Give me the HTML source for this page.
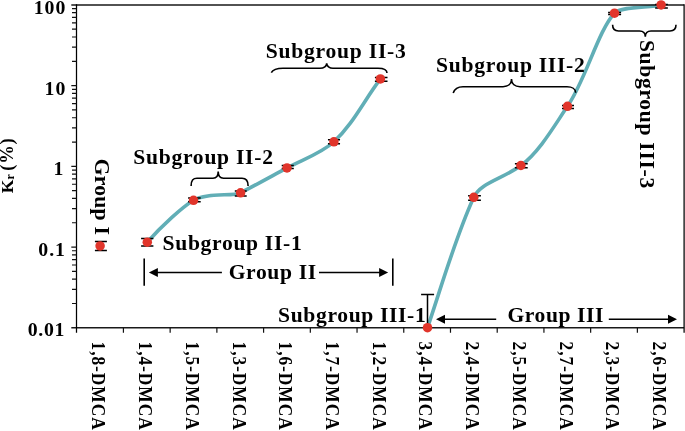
<!DOCTYPE html>
<html><head><meta charset="utf-8"><style>
html,body{margin:0;padding:0;background:#fff;width:685px;height:431px;overflow:hidden}
svg{display:block;will-change:transform}
text{font-family:"Liberation Serif",serif;font-weight:bold;fill:#000}
</style></head><body>
<svg width="685" height="431" viewBox="0 0 685 431">
<path d="M147.30,242.20 C161.85,225.80 182.22,207.25 193.50,200.30 C206.31,192.40 233.25,196.57 240.60,192.80 C254.52,185.67 275.97,173.78 287.00,167.90 C302.89,159.42 321.34,153.46 333.90,141.80 C353.02,124.03 363.82,100.96 380.40,78.90" stroke="#61aeb6" stroke-width="3.6" fill="none" stroke-linecap="round" stroke-linejoin="round"/>
<path d="M427.50,327.70 C442.68,282.86 455.33,237.53 473.80,197.30 C480.44,182.84 501.64,179.44 520.90,165.50 C539.57,151.98 555.12,124.34 567.50,106.30 C585.87,79.53 598.37,30.15 614.50,13.20 C621.59,5.74 652.29,8.04 661.10,4.90" stroke="#61aeb6" stroke-width="3.6" fill="none" stroke-linecap="round" stroke-linejoin="round"/>
<path d="M71.3,4.9H684.1M71.3,327.8H684.1" stroke="#1a1a1a" stroke-width="1.45" fill="none"/>
<path d="M76.5,4.300000000000001V332.8M684.1,4.300000000000001V332.8" stroke="#000" stroke-width="1.25" fill="none"/>
<path d="M72,303.50H76.5M72,289.28H76.5M72,279.20H76.5M72,271.38H76.5M72,264.98H76.5M72,259.58H76.5M72,254.90H76.5M72,250.77H76.5M72,222.77H76.5M72,208.56H76.5M72,198.47H76.5M72,190.65H76.5M72,184.26H76.5M72,178.85H76.5M72,174.17H76.5M72,170.04H76.5M72,142.05H76.5M72,127.83H76.5M72,117.75H76.5M72,109.93H76.5M72,103.53H76.5M72,98.13H76.5M72,93.45H76.5M72,89.32H76.5M72,61.32H76.5M72,47.11H76.5M72,37.02H76.5M72,29.20H76.5M72,22.81H76.5M72,17.40H76.5M72,12.72H76.5M72,8.59H76.5M71.3,247.07H76.5M71.3,166.35H76.5M71.3,85.62H76.5" stroke="#111" stroke-width="1.2" fill="none"/>
<path d="M123.42,327.8V332.8M170.15,327.8V332.8M216.87,327.8V332.8M263.59,327.8V332.8M310.32,327.8V332.8M357.04,327.8V332.8M403.76,327.8V332.8M450.48,327.8V332.8M497.21,327.8V332.8M543.93,327.8V332.8M590.65,327.8V332.8M637.38,327.8V332.8" stroke="#111" stroke-width="1.2" fill="none"/>
<text x="66.3" y="13.9" font-size="19.8" letter-spacing="1" text-anchor="end">100</text>
<text x="66.3" y="94.6" font-size="19.8" letter-spacing="1" text-anchor="end">10</text>
<text x="64.3" y="175.3" font-size="19.8" letter-spacing="1" text-anchor="end">1</text>
<text x="66" y="256.1" font-size="19.8" letter-spacing="1" text-anchor="end">0.1</text>
<text x="65.2" y="336.0" font-size="19.8" letter-spacing="0.7" text-anchor="end">0.01</text>
<text transform="translate(13.2,193.2) rotate(-90)" font-size="17.6">K<tspan font-size="12" dy="0.8">r</tspan><tspan dy="-0.8" dx="-1.8" font-size="18.6" letter-spacing="0.7"> (%)</tspan></text>
<text transform="translate(92.4,341.5) rotate(90) scale(1,1.07)" font-size="17.4" letter-spacing="0.95">1,8-DMCA</text>
<text transform="translate(139.1,341.5) rotate(90) scale(1,1.07)" font-size="17.4" letter-spacing="0.95">1,4-DMCA</text>
<text transform="translate(185.8,341.5) rotate(90) scale(1,1.07)" font-size="17.4" letter-spacing="0.95">1,5-DMCA</text>
<text transform="translate(232.5,341.5) rotate(90) scale(1,1.07)" font-size="17.4" letter-spacing="0.95">1,3-DMCA</text>
<text transform="translate(279.3,341.5) rotate(90) scale(1,1.07)" font-size="17.4" letter-spacing="0.95">1,6-DMCA</text>
<text transform="translate(326.0,341.5) rotate(90) scale(1,1.07)" font-size="17.4" letter-spacing="0.95">1,7-DMCA</text>
<text transform="translate(372.7,341.5) rotate(90) scale(1,1.07)" font-size="17.4" letter-spacing="0.95">1,2-DMCA</text>
<text transform="translate(419.4,341.5) rotate(90) scale(1,1.07)" font-size="17.4" letter-spacing="0.95">3,4-DMCA</text>
<text transform="translate(466.1,341.5) rotate(90) scale(1,1.07)" font-size="17.4" letter-spacing="0.95">2,4-DMCA</text>
<text transform="translate(512.9,341.5) rotate(90) scale(1,1.07)" font-size="17.4" letter-spacing="0.95">2,5-DMCA</text>
<text transform="translate(559.6,341.5) rotate(90) scale(1,1.07)" font-size="17.4" letter-spacing="0.95">2,7-DMCA</text>
<text transform="translate(606.3,341.5) rotate(90) scale(1,1.07)" font-size="17.4" letter-spacing="0.95">2,3-DMCA</text>
<text transform="translate(653.0,341.5) rotate(90) scale(1,1.07)" font-size="17.4" letter-spacing="0.95">2,6-DMCA</text>
<path d="M94.90,241.4H106.90M94.90,250.6H106.90M100.10,241.4V250.6M141.10,238.4H153.40M141.10,245.9H153.40M147.30,238.4V245.9M188.10,197.9H200.70M188.10,201.8H200.70M193.50,197.9V201.8M234.80,190.9H246.70M234.80,195.9H246.70M240.60,190.9V195.9M281.70,165.6H293.80M281.70,168.6H293.80M287.00,165.6V168.6M327.95,139.7H340.05M327.95,143.7H340.05M333.90,139.7V143.7M374.90,77.6H387.50M374.90,81.2H387.50M380.40,77.6V81.2M468.10,195.7H480.90M468.10,200.3H480.90M473.80,195.7V200.3M514.90,163.7H527.70M514.90,167.7H527.70M520.90,163.7V167.7M562.00,105.4H574.00M562.00,108.5H574.00M567.50,105.4V108.5M608.10,12.5H621.10M608.10,14.4H621.10M614.50,12.5V14.4M655.15,4.6H667.85M655.15,7.9H667.85M661.10,4.6V7.9M421.1,294.4H434.1M427.50,294.4V327.8" stroke="#000" stroke-width="1.5" fill="none"/>
<circle cx="100.1" cy="245.9" r="4.75" fill="#e1352b"/>
<circle cx="147.3" cy="242.2" r="4.75" fill="#e1352b"/>
<circle cx="193.5" cy="200.3" r="4.75" fill="#e1352b"/>
<circle cx="240.6" cy="192.8" r="4.75" fill="#e1352b"/>
<circle cx="287.0" cy="167.9" r="4.75" fill="#e1352b"/>
<circle cx="333.9" cy="141.8" r="4.75" fill="#e1352b"/>
<circle cx="380.4" cy="78.9" r="4.75" fill="#e1352b"/>
<circle cx="427.5" cy="327.7" r="4.75" fill="#e1352b"/>
<circle cx="473.8" cy="197.3" r="4.75" fill="#e1352b"/>
<circle cx="520.9" cy="165.5" r="4.75" fill="#e1352b"/>
<circle cx="567.5" cy="106.3" r="4.75" fill="#e1352b"/>
<circle cx="614.5" cy="13.2" r="4.75" fill="#e1352b"/>
<circle cx="661.1" cy="4.9" r="4.75" fill="#e1352b"/>
<path d="M191.1,185.9 C191.1,180 193,178.3 197,178.3 H213 C216.5,178.3 218.2,176 218.2,171.6 C218.2,176 220,178.3 223.5,178.3 H242 C246,178.3 248.1,180 248.1,185.9" stroke="#000" stroke-width="1.6" fill="none"/>
<path d="M271.3,72.6 C273,69.5 276,68.3 283,68.3 H320 C324,68.3 326.7,66 326.7,63.2 C326.7,66 329.5,68.3 333,68.3 H378 C384,68.3 387,70 387,73.1" stroke="#000" stroke-width="1.6" fill="none"/>
<path d="M453.2,93 C454.5,89 457,86.7 463,86.7 H503 C508,86.7 511.5,84 511.5,79.1 C511.5,84 515,86.7 520,86.7 H567 C572,86.7 575.7,89 575.7,92.8" stroke="#000" stroke-width="1.6" fill="none"/>
<path d="M612.6,24.8 C612.6,29 614.5,31 618.5,31 H639.5 C643,31 645.3,33 645.3,36.8 C645.3,33 647.6,31 651,31 H670 C674,31 676,29 676,24.8" stroke="#000" stroke-width="1.6" fill="none"/>
<path d="M144.2,258.6V285.7M392.8,258.6V285.7M156,272.5H221.9M319,272.5H381" stroke="#000" stroke-width="1.6" fill="none"/>
<path d="M148.9,272.5 L157.9,268.0 L157.9,277.0 Z" fill="#000"/>
<path d="M388.1,272.5 L379.1,268.0 L379.1,277.0 Z" fill="#000"/>
<path d="M443,319.3H496.2M608.8,319.3H669" stroke="#000" stroke-width="1.6" fill="none"/>
<path d="M436,319.3 L445,314.8 L445,323.8 Z" fill="#000"/>
<path d="M677,319.3 L668,314.8 L668,323.8 Z" fill="#000"/>
<text x="162.5" y="249.7" font-size="21.6" letter-spacing="0.68">Subgroup II-1</text>
<text x="133.2" y="163.9" font-size="21.6" letter-spacing="0.73">Subgroup II-2</text>
<text x="265.7" y="57.9" font-size="21.6" letter-spacing="0.76">Subgroup II-3</text>
<text x="436.1" y="71.9" font-size="21.6" letter-spacing="0.71">Subgroup III-2</text>
<text x="278.0" y="321.7" font-size="21.6" letter-spacing="0.64">Subgroup III-1</text>
<text x="228.7" y="278.6" font-size="21.6" letter-spacing="0.63">Group II</text>
<text x="507.5" y="321.6" font-size="21.6" letter-spacing="0.56">Group III</text>
<text transform="translate(95.3,158.7) rotate(90)" font-size="21.6" letter-spacing="0.25">Group I</text>
<text transform="translate(640.3,39.9) rotate(90)" font-size="21.6" letter-spacing="0.69">Subgroup III-3</text>
</svg></body></html>
